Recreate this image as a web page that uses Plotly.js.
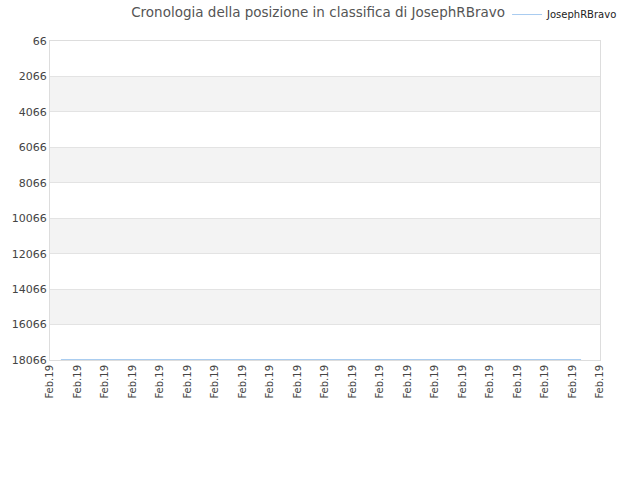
<!DOCTYPE html>
<html>
<head>
<meta charset="utf-8">
<script src="https://cdn.plot.ly/plotly-3.0.1.min.js"></script>
<style>body{margin:0}#chart{width:640px;height:480px}</style>
</head>
<body>
<div id="chart"></div>
<script>
// rank history of JosephRBravo
const dates = ['2019-02-01 09:30', '2019-02-05', '2019-02-10', '2019-02-15', '2019-02-20 07:30']
const ranks = [18040, 18040, 18040, 18040, 18040]
const tickDays = []
for (let d = 1; d <= 21; d++) tickDays.push('2019-02-' + String(d).padStart(2, '0'))
const yTicks = [66, 2066, 4066, 6066, 8066, 10066, 12066, 14066, 16066, 18066]

// grey bands every other step
let bands = []
for (let i = 1; i < yTicks.length - 1; i += 2) {
    bands.push({
        type: 'rect', xref: 'paper', yref: 'y', layer: 'below',
        x0: 0, x1: 1, y0: yTicks[i], y1: yTicks[i + 1],
        fillcolor: '#f3f3f3', line: {width: 0}
    })
}

let trace = {
    x: dates, y: ranks,
    type: 'scatter', mode: 'lines',
    name: 'JosephRBravo',
    line: {color: '#a8ccf0', width: 1}
}

let layout = {
    width: 640, height: 480,
    margin: {l: 50, r: 40, t: 41, b: 120, autoexpand: false},
    font: {family: 'DejaVu Sans', size: 10, color: '#444'},
    title: {text: 'Cronologia della posizione in classifica di JosephRBravo',
            x: 0.497, y: 0.984, font: {size: 13.5, color: '#555'}},
    showlegend: true,
    legend: {x: 0.831, y: 1.083, xanchor: 'left', yanchor: 'middle',
             font: {size: 10, color: '#222'}, itemwidth: 30},
    xaxis: {
        type: 'date',
        range: ['2019-02-01', '2019-02-21'],
        tickvals: tickDays, tickformat: '%b.%y', tickangle: -90,
        showgrid: false, zeroline: false,
        showline: true, mirror: true, linecolor: '#ddd',
        ticks: '', tickfont: {size: 10, color: '#444'}
    },
    yaxis: {
        range: [18066, 66],
        tickvals: yTicks, ticktext: yTicks.map(String),
        showgrid: true, gridcolor: '#e3e3e3',
        zeroline: false, showline: true, mirror: true, linecolor: '#ddd',
        ticks: '', tickfont: {size: 11, color: '#444'}
    },
    shapes: bands,
    plot_bgcolor: '#fff', paper_bgcolor: '#fff'
}

Plotly.newPlot('chart', [trace], layout, {displayModeBar: false})
</script>
</body>
</html>
